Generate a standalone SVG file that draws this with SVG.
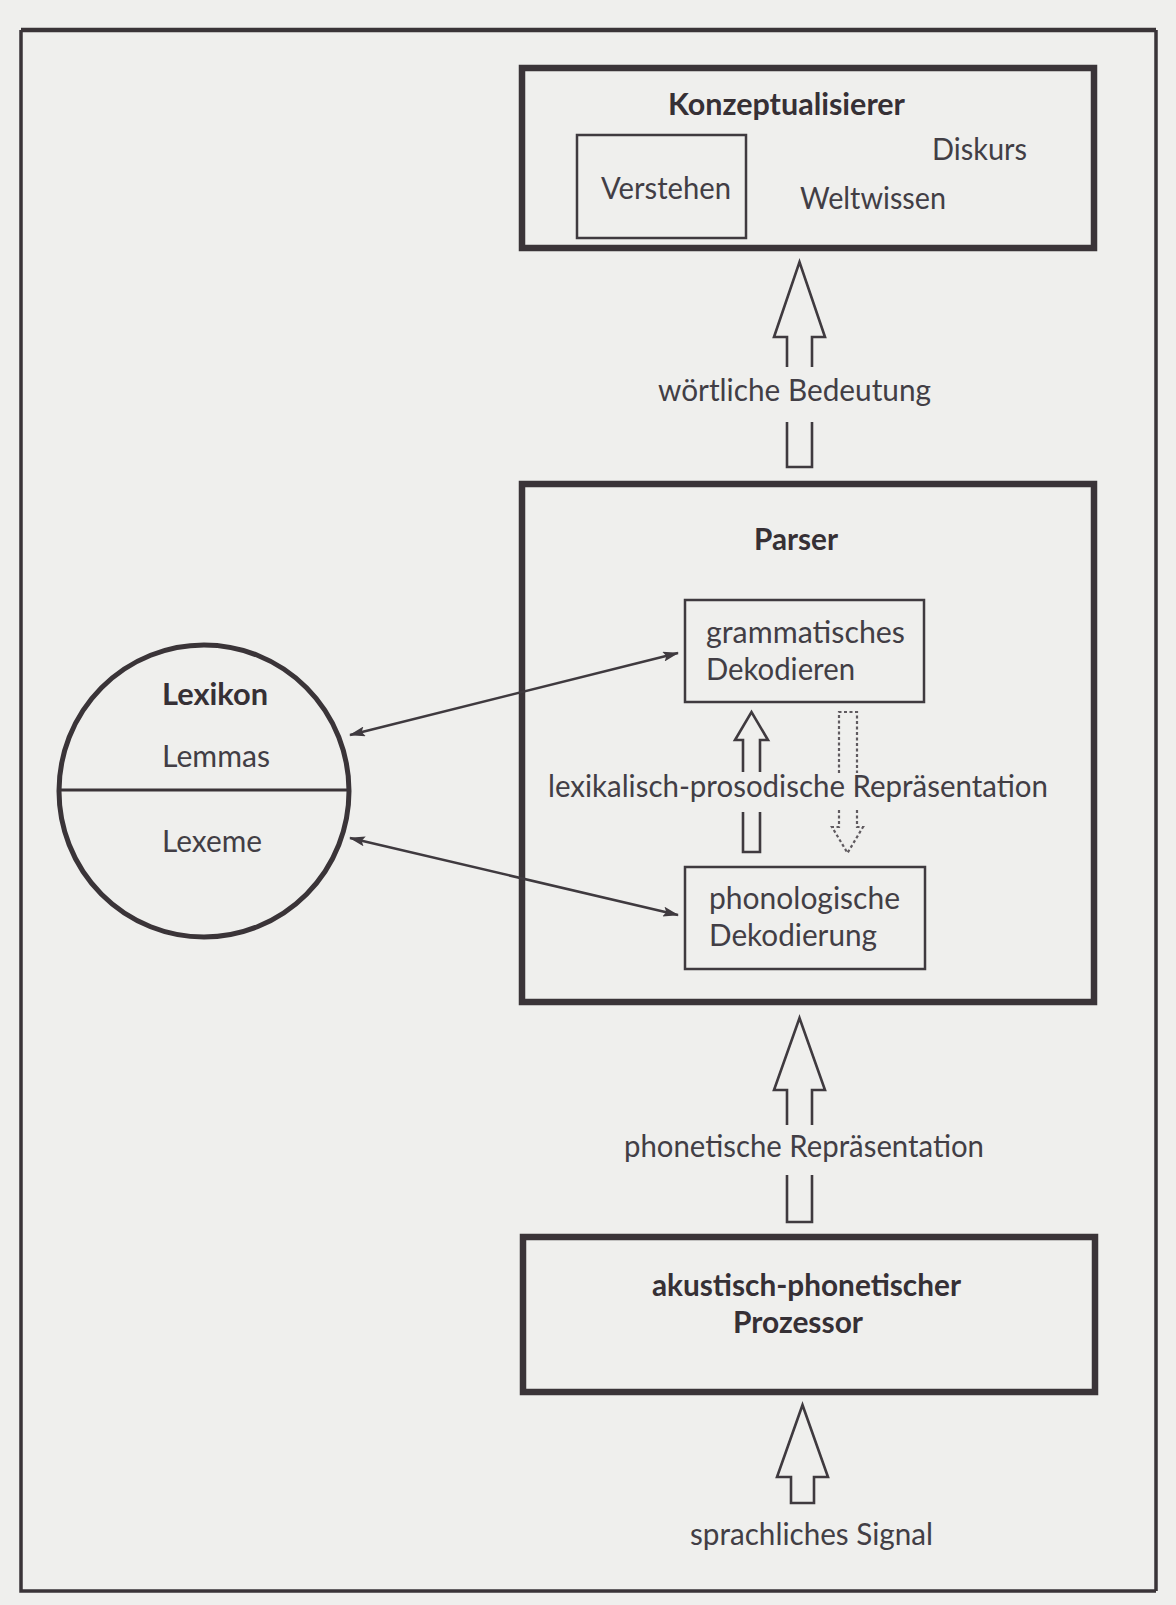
<svg xmlns="http://www.w3.org/2000/svg" width="1176" height="1605" viewBox="0 0 1176 1605">
<style>
.bg{fill:#efefed}
.frame{fill:none;stroke:#3a3438;stroke-width:3.5}
.box{fill:none;stroke:#3a3438;stroke-width:6.5}
.thin{fill:none;stroke:#3f3a3f;stroke-width:2.5}
.blk{fill:none;stroke:#3f3a3f;stroke-width:2.6;stroke-linejoin:miter}
.dot{fill:none;stroke:#5f5a5f;stroke-width:2.2;stroke-dasharray:3 2.5}
.con{fill:none;stroke:#3f3a3f;stroke-width:2.5}
text{font-family:Lato,"Open Sans","Liberation Sans",sans-serif;font-size:30px;fill:#423e45}
.b{font-weight:bold;font-size:30px;fill:#363035}
</style>
<defs>
<marker id="ah" viewBox="0 0 16 10" refX="15" refY="5" markerWidth="16" markerHeight="10" markerUnits="userSpaceOnUse" orient="auto-start-reverse">
<path d="M0,0 L16,5 L0,10 L3,5 Z" fill="#3f3a3f"/>
</marker>
</defs>
<rect class="bg" x="0" y="0" width="1176" height="1605"/>
<path class="frame" d="M21,30 H1156 M21,30 V1591 H1156 M1156,30 V1591"/>
<line x1="21" y1="30" x2="1156" y2="30" stroke="#3a3438" stroke-width="4.5"/>

<g id="konzeptualisierer">
<rect class="box" x="522" y="68" width="572" height="180"/>
<text class="b" x="668" y="115" textLength="237" lengthAdjust="spacingAndGlyphs">Konzeptualisierer</text>
<text x="932" y="160" textLength="95" lengthAdjust="spacingAndGlyphs">Diskurs</text>
<text x="800" y="209" textLength="146" lengthAdjust="spacingAndGlyphs">Weltwissen</text>
</g>
<g id="verstehen">
<rect class="thin" x="577" y="135" width="169" height="103"/>
<text x="601" y="199" textLength="130" lengthAdjust="spacingAndGlyphs">Verstehen</text>
</g>

<g id="parser">
<rect class="box" x="522" y="484" width="572" height="518"/>
<text class="b" x="754" y="550" textLength="84" lengthAdjust="spacingAndGlyphs">Parser</text>
</g>
<g id="grammatisches-dekodieren">
<rect class="thin" x="685" y="600" width="239" height="102"/>
<text x="706" y="643" textLength="199" lengthAdjust="spacingAndGlyphs">grammatisches</text>
<text x="706" y="680" textLength="149" lengthAdjust="spacingAndGlyphs">Dekodieren</text>
</g>
<g id="phonologische-dekodierung">
<rect class="thin" x="685" y="867" width="240" height="102"/>
<text x="709" y="909" textLength="191" lengthAdjust="spacingAndGlyphs">phonologische</text>
<text x="709" y="946" textLength="168" lengthAdjust="spacingAndGlyphs">Dekodierung</text>
</g>

<g id="akustisch-phonetischer-prozessor">
<rect class="box" x="523" y="1237" width="572" height="155"/>
<text class="b" x="652" y="1296" textLength="309" lengthAdjust="spacingAndGlyphs">akustisch-phonetischer</text>
<text class="b" x="733" y="1333" textLength="130" lengthAdjust="spacingAndGlyphs">Prozessor</text>
</g>

<g id="lexikon">
<ellipse cx="204" cy="791" rx="145" ry="146" fill="none" stroke="#3a3438" stroke-width="5"/>
<line x1="59" y1="790" x2="349" y2="790" stroke="#3a3438" stroke-width="3"/>
<text class="b" x="162" y="705" textLength="106" lengthAdjust="spacingAndGlyphs">Lexikon</text>
<text x="162" y="767" textLength="108" lengthAdjust="spacingAndGlyphs">Lemmas</text>
<text x="162" y="852" textLength="100" lengthAdjust="spacingAndGlyphs">Lexeme</text>
</g>

<g id="connectors">
<path class="blk" d="M787,367 V337 H774 L799.5,262 L825,337 H812 V367"/>
<path class="blk" d="M787,422 V467 H812 V422"/>
<text x="658" y="401" textLength="273" lengthAdjust="spacingAndGlyphs">wörtliche Bedeutung</text>

<path class="blk" d="M743,772 V740 H735 L751.5,712 L768,740 H760 V772"/>
<path class="blk" d="M743,812 V852 H760 V812"/>
<path class="dot" d="M839,773 V712 H857 V773"/>
<path class="dot" d="M839,810 V827 H832 L847.5,853 L863,827 H857 V810"/>
<text x="548" y="797" textLength="500" lengthAdjust="spacingAndGlyphs">lexikalisch-prosodische Repräsentation</text>

<path class="blk" d="M787,1125 V1090 H774 L799.5,1018 L825,1090 H812 V1125"/>
<path class="blk" d="M787,1175 V1222 H812 V1175"/>
<text x="624" y="1157" textLength="360" lengthAdjust="spacingAndGlyphs">phonetische Repräsentation</text>

<path class="blk" d="M791,1503 V1477 H777 L802.5,1405 L828,1477 H814 V1503 Z"/>
<text x="690" y="1545" textLength="243" lengthAdjust="spacingAndGlyphs">sprachliches Signal</text>

<line class="con" x1="350" y1="735" x2="678" y2="653" marker-start="url(#ah)" marker-end="url(#ah)"/>
<line class="con" x1="350" y1="838" x2="678" y2="915" marker-start="url(#ah)" marker-end="url(#ah)"/>
</g>
</svg>
